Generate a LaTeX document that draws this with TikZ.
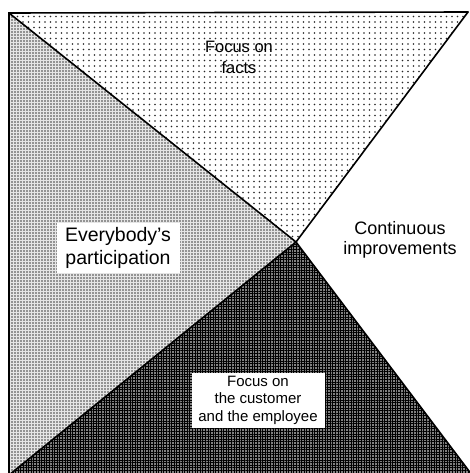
\documentclass[tikz,border=0pt]{standalone}
\usepackage{fontspec}
\setmainfont{Liberation Sans}
\usetikzlibrary{patterns.meta}
\tikzset{
  edge/.style={draw=black, line width=1.6pt, line cap=round},
  lbl/.style={align=center, inner sep=2pt, text=black},
  whitebox/.style={lbl, fill=white},
}
\begin{document}
\begin{tikzpicture}[x=1pt,y=-1pt]
\useasboundingbox (0,0) rectangle (469,473);
\fill[white] (0,0) rectangle (469,473);
\coordinate (tl) at (9,13);
\coordinate (tr) at (468,12);
\coordinate (c) at (296,242);
\coordinate (bl) at (9,475);
\coordinate (br) at (472,475);
% top region: sparse dots
\path[pattern={Dots[distance=5.5pt, radius=0.95pt, xshift=1pt]}, pattern color=black!85]
  (tl) -- (tr) -- (c) -- cycle;
% left region: denser dots on light gray
\path[fill=black!10, postaction={pattern={Dots[distance=3pt, radius=0.8pt]}, pattern color=black!75}]
  (tl) -- (c) -- (bl) -- cycle;
% bottom region: dark grid
\path[fill=black!50, postaction={pattern={Lines[angle=0, distance=2.6pt, line width=0.9pt]}, pattern color=black},
  postaction={pattern={Lines[angle=90, distance=2.6pt, line width=0.9pt]}, pattern color=black}]
  (bl) -- (c) -- (br) -- cycle;
% outlines
\draw[edge] (bl) -- (tl) -- (tr);
\draw[edge] (tl) -- (c) -- (br);
\draw[edge] (tr) -- (c) -- (bl);
% labels
\node[lbl, font=\fontsize{16.5}{21}\selectfont] (facts) at (239,57) {Focus on\\facts};
\node[whitebox, font=\fontsize{19.5}{23}\selectfont, minimum width=123pt, minimum height=50pt] (part) at (118,248) {Everybody's\\participation};
\node[lbl, font=\fontsize{18}{20}\selectfont] (cont) at (400,240) {Continuous\\improvements};
\node[whitebox, font=\fontsize{15}{17.5}\selectfont, inner sep=1pt, minimum width=133pt, minimum height=55pt] (cust) at (258,400) {Focus on\\the customer\\and the employee};
\end{tikzpicture}
\end{document}
